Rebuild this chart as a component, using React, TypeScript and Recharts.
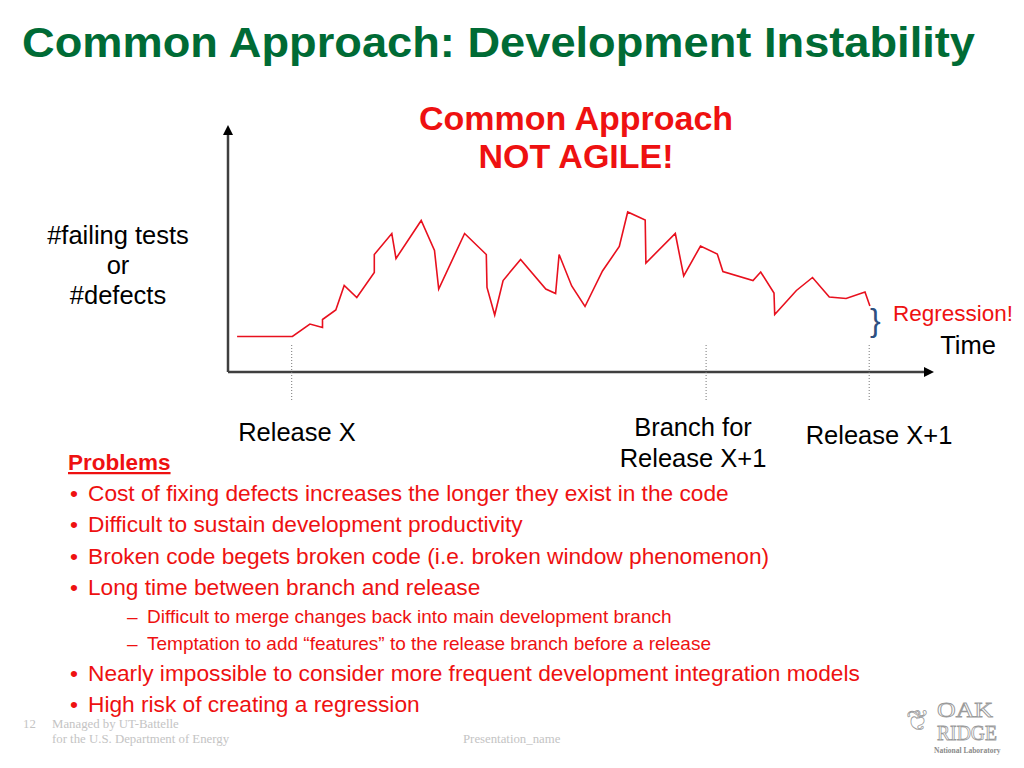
import React from "react";
import {
  LineChart,
  Line,
  XAxis,
  YAxis,
  ReferenceLine,
  ReferenceDot,
} from "recharts";

// time (arbitrary units, 0..100) and #failing tests
const times = [
  1.3, 9.2, 11.7, 13.5, 13.5, 15.4, 16.6, 18.4, 20.9, 20.9, 23.4, 24.0, 27.6,
  29.5, 30.1, 33.8, 36.9, 37.0, 38.1, 39.3, 41.8, 45.4, 46.8, 47.3, 49.1, 51.0,
  53.5, 55.9, 57.1, 59.6, 59.7, 63.9, 65.1, 67.5, 69.9, 70.7, 75.0, 76.1, 78.0,
  78.1, 81.2, 83.5, 85.9, 88.3, 91.0, 91.7,
];
const failing = [
  7.1, 7.1, 9.6, 8.9, 10.5, 12.4, 17.3, 14.9, 19.9, 23.5, 27.7, 22.7, 30.3,
  24.3, 16.6, 27.7, 23.5, 16.9, 11.4, 18.3, 22.5, 16.6, 15.7, 23.5, 17.2, 13.1,
  20.2, 25.1, 32.0, 30.4, 21.8, 27.7, 19.2, 25.2, 23.6, 20.1, 18.3, 20.0, 15.8,
  11.5, 16.3, 18.9, 15.0, 14.7, 16.0, 13.2,
];

// milestones on the time axis
const milestones = [9.1, 68.3, 91.6];

const bullets = [
  "Cost of fixing defects increases the longer they exist in the code",
  "Difficult to sustain development productivity",
  "Broken code begets broken code (i.e. broken window phenomenon)",
  "Long time between branch and release",
];
const subBullets = [
  "Difficult to merge changes back into main development branch",
  "Temptation to add \u201cfeatures\u201d to the release branch before a release",
];
const lastBullets = [
  "Nearly impossible to consider more frequent development integration models",
  "High risk of creating a regression",
];

const data = times.map((t, i) => ({ t, v: failing[i] }));

const RED = "#ee1111";
const AXIS = "#3f3f3f";
const SANS = "'Liberation Sans', Arial, sans-serif";
const SERIF = "'Liberation Serif', 'Times New Roman', serif";

const ArrowRight = (p: any) => (
  <polygon
    points={`${p.cx - 4},${p.cy - 5} ${p.cx + 6},${p.cy} ${p.cx - 4},${p.cy + 5}`}
    fill="#000"
  />
);
const ArrowUp = (p: any) => (
  <polygon
    points={`${p.cx - 5},${p.cy + 9} ${p.cx},${p.cy - 1} ${p.cx + 5},${p.cy + 9}`}
    fill="#000"
  />
);

export default function App() {
  return (
    <div
      style={{
        position: "relative",
        width: 1024,
        height: 768,
        margin: -8,
        background: "#fff",
        overflow: "hidden",
      }}
    >
      <LineChart
        width={1024}
        height={768}
        data={data}
        margin={{ left: 228, right: 96, top: 126, bottom: 396 }}
        style={{ position: "absolute", left: 0, top: 0 }}
      >
        <XAxis type="number" dataKey="t" domain={[0, 100]} hide />
        <YAxis type="number" domain={[0, 49.2]} hide />
        <ReferenceLine
          segment={[
            { x: 0, y: 0 },
            { x: 100, y: 0 },
          ]}
          ifOverflow="visible"
          stroke={AXIS}
          strokeWidth={2.5}
        />
        <ReferenceLine
          segment={[
            { x: 0, y: 0 },
            { x: 0, y: 48 },
          ]}
          ifOverflow="visible"
          stroke={AXIS}
          strokeWidth={2.5}
        />
        {milestones.map((m) => (
          <ReferenceLine
            key={m}
            segment={[
              { x: m, y: 5.4 },
              { x: m, y: -5.6 },
            ]}
            ifOverflow="visible"
            stroke="#777"
            strokeWidth={1}
            strokeDasharray="1 2"
          />
        ))}
        <ReferenceDot x={100} y={0} ifOverflow="visible" shape={ArrowRight} />
        <ReferenceDot x={0} y={49.2} ifOverflow="visible" shape={ArrowUp} />
        <Line
          type="linear"
          dataKey="v"
          stroke="#e8101e"
          strokeWidth={1.6}
          dot={false}
          isAnimationActive={false}
        />
      </LineChart>

      <svg
        width={1024}
        height={768}
        style={{ position: "absolute", left: 0, top: 0, pointerEvents: "none" }}
      >
        <text
          x={22}
          y={57}
          fontFamily={SANS}
          fontWeight={700}
          fontSize={42}
          fill="#006b35"
          textLength={953}
          lengthAdjust="spacingAndGlyphs"
        >
          Common Approach: Development Instability
        </text>

        <g fontFamily={SANS} fontWeight={700} fontSize={34} fill={RED} textAnchor="middle">
          <text x={576} y={130}>Common Approach</text>
          <text x={576} y={168}>NOT AGILE!</text>
        </g>

        <g fontFamily={SANS} fontSize={25.5} fill="#000" textAnchor="middle">
          <text x={118} y={244}>#failing tests</text>
          <text x={118} y={274}>or</text>
          <text x={118} y={304}>#defects</text>
          <text x={297} y={441}>Release X</text>
          <text x={693} y={436}>Branch for</text>
          <text x={693} y={467}>Release X+1</text>
          <text x={879} y={444}>Release X+1</text>
          <text x={968} y={354}>Time</text>
        </g>

        <text x={870} y={331} fontFamily={SANS} fontSize={32} fill="#2f4f80" fontWeight={300}>
          {"}"}
        </text>
        <text x={953} y={321} fontFamily={SANS} fontSize={22.5} fill={RED} textAnchor="middle">
          Regression!
        </text>

        <text
          x={68}
          y={470}
          fontFamily={SANS}
          fontWeight={700}
          fontSize={22.5}
          fill={RED}
          textDecoration="underline"
        >
          Problems
        </text>

        <g fontFamily={SANS} fontSize={22.7} fill={RED}>
          {bullets.map((b, i) => (
            <g key={b}>
              <text x={70} y={501 + i * 31.3}>{"\u2022"}</text>
              <text x={88} y={501 + i * 31.3}>{b}</text>
            </g>
          ))}
          {lastBullets.map((b, i) => (
            <g key={b}>
              <text x={70} y={681 + i * 30.5}>{"\u2022"}</text>
              <text x={88} y={681 + i * 30.5}>{b}</text>
            </g>
          ))}
        </g>
        <g fontFamily={SANS} fontSize={19} fill={RED}>
          {subBullets.map((b, i) => (
            <g key={b}>
              <text x={127} y={623 + i * 27}>{"\u2013"}</text>
              <text x={147} y={623 + i * 27}>{b}</text>
            </g>
          ))}
        </g>

        <g fontFamily={SERIF} fontSize={12.8} fill="#c4c4c4">
          <text x={23} y={728}>12</text>
          <text x={52} y={728}>Managed by UT-Battelle</text>
          <text x={52} y={743}>for the U.S. Department of Energy</text>
          <text x={463} y={743}>Presentation_name</text>
        </g>

        <g fontFamily={SERIF} fill="#fff" stroke="#9a9a9a" strokeWidth={0.8}>
          <text x={937} y={717} fontSize={20} textLength={56} lengthAdjust="spacingAndGlyphs">OAK</text>
          <text x={937} y={740} fontSize={20} textLength={60} lengthAdjust="spacingAndGlyphs">RIDGE</text>
        </g>
        <text x={934} y={753} fontFamily={SERIF} fontSize={7.5} fontWeight={700} fill="#8a8a8a">
          National Laboratory
        </text>
        <text x={906} y={730} fontFamily={SANS} fontSize={28} fill="#fff" stroke="#9a9a9a" strokeWidth={0.8}>
          {"\u2766"}
        </text>
      </svg>
    </div>
  );
}
